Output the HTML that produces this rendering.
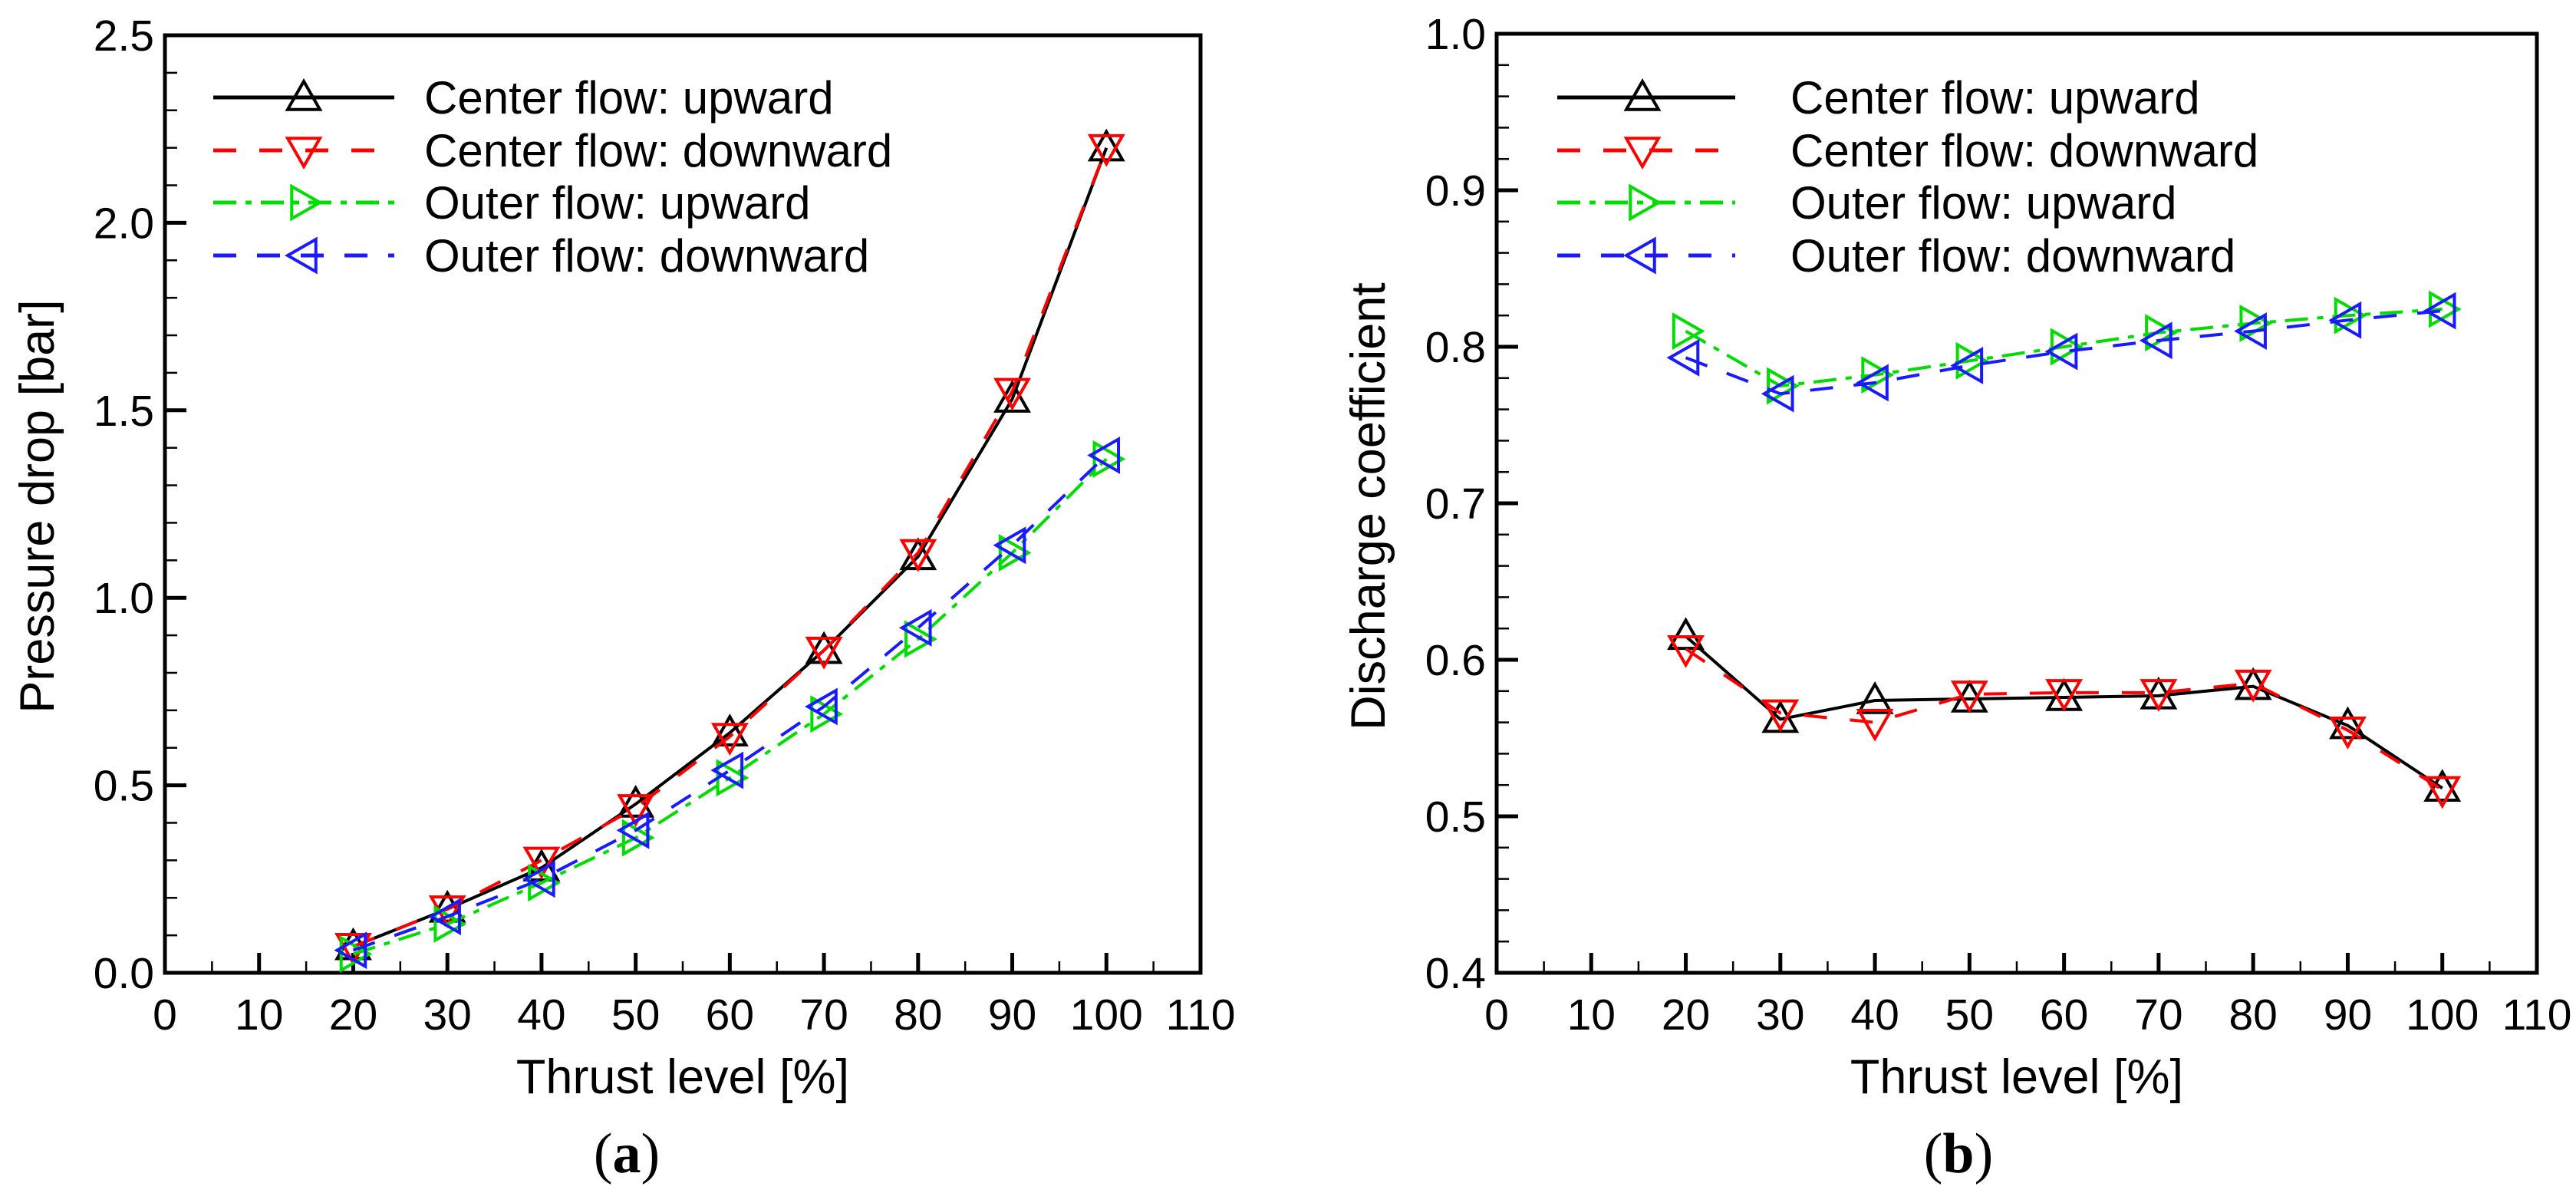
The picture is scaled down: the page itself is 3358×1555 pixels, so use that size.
<!DOCTYPE html>
<html><head><meta charset="utf-8"><style>
html,body{margin:0;padding:0;background:#fff}
svg{display:block}
text{font-family:"Liberation Sans",sans-serif;fill:#000}
</style></head><body>
<svg id="fig" width="3358" height="1555" viewBox="0 0 3358 1555" xmlns="http://www.w3.org/2000/svg"></svg>
<script>
const thrust = [20,30,40,50,60,70,80,90,100];
const xTicks = [0,10,20,30,40,50,60,70,80,90,100,110];
const seriesNames = ["Center flow: upward","Center flow: downward","Outer flow: upward","Outer flow: downward"];
const dpCenterUp   = [0.07,0.17,0.28,0.45,0.64,0.86,1.11,1.53,2.20];
const dpCenterDown = [0.07,0.17,0.30,0.44,0.63,0.86,1.12,1.55,2.20];
const dpOuterUp    = [0.05,0.13,0.24,0.36,0.52,0.69,0.89,1.12,1.37];
const dpOuterDown  = [0.06,0.15,0.25,0.38,0.54,0.71,0.92,1.14,1.38];
const cdCenterUp   = [0.615,0.562,0.574,0.575,0.576,0.577,0.583,0.558,0.518];
const cdCenterDown = [0.607,0.566,0.560,0.578,0.579,0.579,0.585,0.555,0.517];
const cdOuterUp    = [0.810,0.775,0.782,0.791,0.800,0.809,0.815,0.820,0.824];
const cdOuterDown  = [0.793,0.770,0.777,0.788,0.797,0.804,0.810,0.817,0.823];
const dpTicks = ["0.0","0.5","1.0","1.5","2.0","2.5"];
const cdTicks = ["0.4","0.5","0.6","0.7","0.8","0.9","1.0"];

const NS="http://www.w3.org/2000/svg";
const svg=document.getElementById('fig');
function mk(tag,attrs,parent){const e=document.createElementNS(NS,tag);for(const k in attrs)e.setAttribute(k,attrs[k]);(parent||svg).appendChild(e);return e;}

const styles=[
 {color:"#000000",dash:"",marker:"up"},
 {color:"#ff0000",dash:"30 30",marker:"down"},
 {color:"#00dd00",dash:"30 12 8 12",marker:"right"},
 {color:"#1a1aff",dash:"30 27",marker:"left"}
];
function markerPts(m,x,y){const s=21;
 if(m==="up")return `${x},${y-s} ${x-s},${y+s*0.75} ${x+s},${y+s*0.75}`;
 if(m==="down")return `${x},${y+s} ${x-s},${y-s*0.75} ${x+s},${y-s*0.75}`;
 if(m==="right")return `${x+s},${y} ${x-s*0.75},${y-s} ${x-s*0.75},${y+s}`;
 return `${x-s},${y} ${x+s*0.75},${y-s} ${x+s*0.75},${y+s}`;}

function panel(cfg){
 const g=mk('g',{});
 
 
 const L=cfg.L,R=cfg.R,T=cfg.T,B=cfg.B;
 const sx=v=>L+(v-0)/110*(R-L);
 const sy=v=>B-(v-cfg.ymin)/(cfg.ymax-cfg.ymin)*(B-T);
 for(let v=0;v<=110;v+=5){const x=sx(v);const major=v%10===0;
  const t=mk('line',{x1:x,x2:x,y1:B,y2:B-(major?26:15),stroke:"#000","stroke-width":major?5:2.5},g);
  }
 xTicks.forEach(v=>{const t=mk('text',{x:sx(v),y:B+74,"font-size":57,"text-anchor":"middle"},g);t.textContent=v;
  });
 const nMinor=(cfg.ticks.length-1)*5;
 for(let i=0;i<=nMinor;i++){const v=cfg.ymin+i*(cfg.ymax-cfg.ymin)/nMinor;const y=sy(v);const major=i%5===0;
  const t=mk('line',{x1:L,x2:L+(major?28:16),y1:y,y2:y,stroke:"#000","stroke-width":major?5:2.5},g);
  }
 cfg.ticks.forEach((lab,i)=>{const v=cfg.ymin+i*(cfg.ymax-cfg.ymin)/(cfg.ticks.length-1);
  const t=mk('text',{x:L-14,y:sy(v)+20,"font-size":57,"text-anchor":"end"},g);t.textContent=lab;
  });
 const fr=mk('rect',{x:L,y:T,width:R-L,height:B-T,fill:"none",stroke:"#000","stroke-width":5},g);
 
 cfg.data.forEach((arr,si)=>{const st=styles[si];
  const pts=thrust.map((t,i)=>sx(t)+","+sy(arr[i])).join(" ");
  const pl=mk('polyline',{points:pts,fill:"none",stroke:st.color,"stroke-width":4,"stroke-dasharray":st.dash},g);
  
  thrust.forEach((t,i)=>{const m=mk('polygon',{points:markerPts(st.marker,sx(t),sy(arr[i])),fill:"none",stroke:st.color,"stroke-width":4},g);
   });
 });
 const ly=[127,196,264,333];
 seriesNames.forEach((n,i)=>{const st=styles[i];const y=ly[i];
  const ln=mk('line',{x1:cfg.lx1,x2:cfg.lx2,y1:y,y2:y,stroke:st.color,"stroke-width":5,"stroke-dasharray":st.dash},g);
  
  const mkr=mk('polygon',{points:markerPts(st.marker,cfg.lm,y),fill:"none",stroke:st.color,"stroke-width":4},g);
  
  const tx=mk('text',{x:cfg.ltx,y:y+21,"font-size":60},g);tx.textContent=n;
  });
 const xt=mk('text',{x:(L+R)/2,y:1425,"font-size":63,"text-anchor":"middle"},g);xt.textContent="Thrust level [%]";
 
 const yt=mk('text',{x:0,y:0,"font-size":63,"text-anchor":"middle",transform:`translate(${cfg.ytx},660) rotate(-90)`},g);yt.textContent=cfg.ytitle;
 
 const pa=mk('text',{x:cfg.capx,y:1528,"font-size":74,"text-anchor":"middle",style:"font-family:'Liberation Serif',serif"},g);
 pa.innerHTML='(<tspan font-weight="bold">'+cfg.cap+'</tspan>)';
 
}
panel({name:'pressure-drop-chart',L:215,R:1565,T:46,B:1268,ymin:0,ymax:2.5,ticks:dpTicks,
 data:[dpCenterUp,dpCenterDown,dpOuterUp,dpOuterDown],ytitle:"Pressure drop [bar]",ytx:70,capx:817,cap:"a",
 lx1:278,lx2:514,lm:396,ltx:553});
panel({name:'discharge-coefficient-chart',L:1951,R:3307,T:44,B:1268,ymin:0.4,ymax:1.0,ticks:cdTicks,
 data:[cdCenterUp,cdCenterDown,cdOuterUp,cdOuterDown],ytitle:"Discharge coefficient",ytx:1805,capx:2553,cap:"b",
 lx1:2030,lx2:2262,lm:2141,ltx:2334});
</script>
</body></html>
